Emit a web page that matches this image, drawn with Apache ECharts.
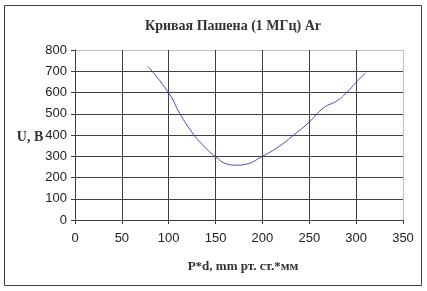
<!DOCTYPE html>
<html><head><meta charset="utf-8">
<script src="https://cdn.jsdelivr.net/npm/echarts@6/dist/echarts.min.js"></script>
<style>html,body{margin:0;padding:0;background:#fff}#c{width:427px;height:291px}</style>
</head><body><div id="c"></div>
<script>
const titleText = "Кривая Пашена (1 МГц) Ar";
const xName = "P*d, mm рт. ст.*мм";
const yName = "U, В";
const pd = [78, 100, 112, 125, 138, 150, 162, 172, 182, 200, 218, 234, 250, 265, 280, 290, 300, 310];
const voltage = [722, 598, 500, 412, 345, 298, 264, 258, 262, 300, 347, 402, 461, 527, 562, 600, 648, 692];

const chart = echarts.init(document.getElementById('c'), null, {renderer: 'canvas'});
const dark = '#404040', light = '#c0c0c0';
const tickFont = {fontFamily: '"Liberation Sans Narrow","Liberation Sans",Arial,sans-serif', fontSize: 13, color: '#222'};
const serifBold = {fontFamily: '"Liberation Serif","Times New Roman",serif', fontWeight: 'bold', fill: '#333'};
chart.setOption({
  animation: false,
  backgroundColor: '#fff',
  grid: {left: 75, top: 50, width: 328, height: 170, containLabel: false},
  xAxis: {
    type: 'value', min: 0, max: 350, interval: 50,
    axisLine: {show: true, lineStyle: {color: dark, width: 1}},
    axisTick: {show: true, length: 4, lineStyle: {color: dark}},
    axisLabel: Object.assign({margin: 12}, tickFont),
    splitLine: {show: true, lineStyle: {color: [dark, dark, dark, dark, dark, dark, dark, light], width: 1}}
  },
  yAxis: {
    type: 'value', min: 0, max: 800, interval: 100,
    axisLine: {show: true, lineStyle: {color: dark, width: 1}},
    axisTick: {show: true, length: 4, lineStyle: {color: dark}},
    axisLabel: Object.assign({margin: 8}, tickFont),
    splitLine: {show: true, lineStyle: {color: [dark, dark, dark, dark, dark, dark, dark, dark, light], width: 1}}
  },
  series: [{
    type: 'line',
    data: pd.map((x, i) => [x, voltage[i]]),
    smooth: 0.5,
    showSymbol: false,
    lineStyle: {color: '#4545c0', width: 1}
  }],
  graphic: [
    {type: 'rect', shape: {x: 4.5, y: 5.5, width: 417, height: 280}, style: {fill: 'none', stroke: dark, lineWidth: 1}, silent: true},
    {type: 'text', x: 233, y: 26, style: Object.assign({text: titleText, fontSize: 14, textAlign: 'center', textVerticalAlign: 'middle'}, serifBold)},
    {type: 'text', x: 243, y: 267, style: Object.assign({text: xName, fontSize: 13, textAlign: 'center', textVerticalAlign: 'middle'}, serifBold)},
    {type: 'text', x: 30, y: 137, style: Object.assign({text: yName, fontSize: 14, textAlign: 'center', textVerticalAlign: 'middle'}, serifBold)}
  ]
});
</script></body></html>
